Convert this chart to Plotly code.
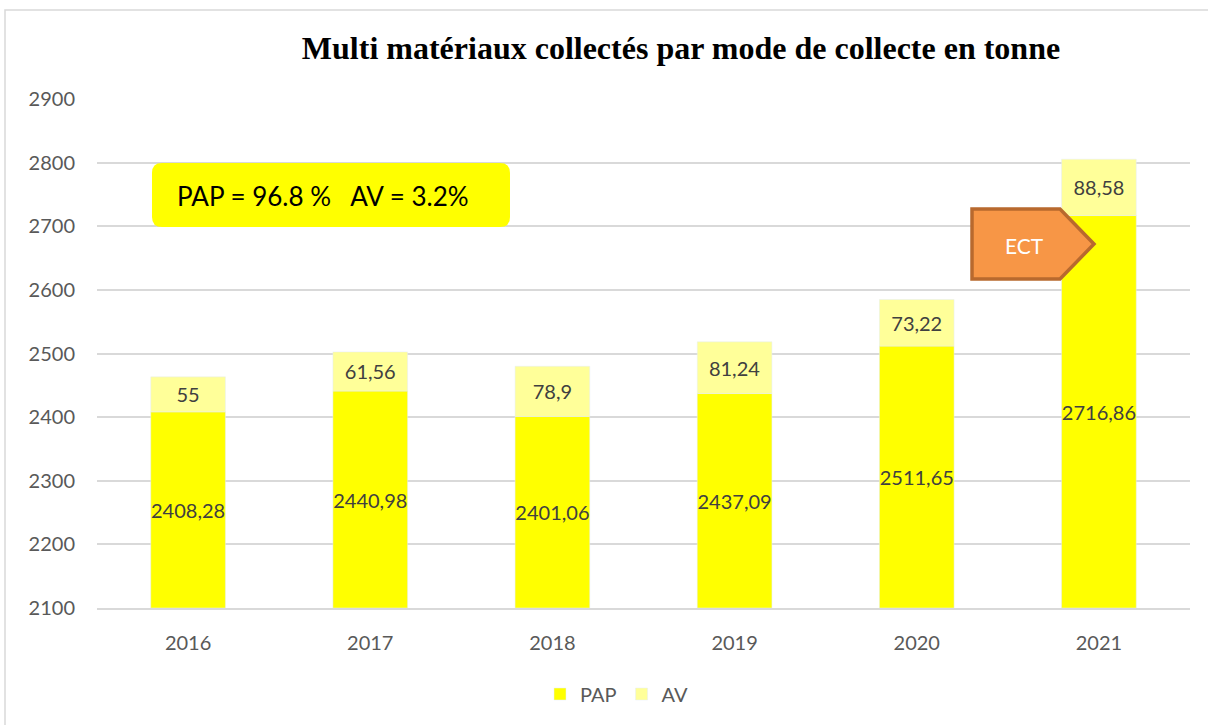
import plotly.graph_objects as go

years = ["2016", "2017", "2018", "2019", "2020", "2021"]
pap = [2408.28, 2440.98, 2401.06, 2437.09, 2511.65, 2716.86]
av = [55, 61.56, 78.9, 81.24, 73.22, 88.58]
y_ticks = [2100, 2200, 2300, 2400, 2500, 2600, 2700, 2800, 2900]
y_min, y_max = 2100, 2900

# plot area in pixels, used to place decorations in paper coords
L, R, T, B = 97, 1190, 99, 608


def px(x):
    return (x - L) / (R - L)


def py(y):
    return (B - y) / (B - T)


def fr(v):
    s = ("%.2f" % v).rstrip("0").rstrip(".")
    return s.replace(".", ",")


label_font = dict(family="Lato, Open Sans, sans-serif", size=20, color="#404040")

fig = go.Figure()
# PAP bars start at the axis floor so the label sits in the visible part
fig.add_trace(go.Bar(x=years, y=[v - y_min for v in pap], base=y_min, name="PAP",
                     marker=dict(color="#FFFF00"),
                     text=[fr(v) for v in pap], textposition="inside", insidetextanchor="middle",
                     textangle=0, textfont=label_font, constraintext="none"))
fig.add_trace(go.Bar(x=years, y=av, base=pap, name="AV", marker=dict(color="#FFFF99"),
                     text=[fr(v) for v in av], textposition="inside", insidetextanchor="middle",
                     textangle=0, textfont=label_font, constraintext="none"))


def rounded(x0, y0, x1, y1, r):
    # rounded rectangle in pixels -> path in paper coords
    pts = []
    pts.append("M %f,%f" % (px(x0 + r), py(y0)))
    pts.append("L %f,%f" % (px(x1 - r), py(y0)))
    pts.append("Q %f,%f %f,%f" % (px(x1), py(y0), px(x1), py(y0 + r)))
    pts.append("L %f,%f" % (px(x1), py(y1 - r)))
    pts.append("Q %f,%f %f,%f" % (px(x1), py(y1), px(x1 - r), py(y1)))
    pts.append("L %f,%f" % (px(x0 + r), py(y1)))
    pts.append("Q %f,%f %f,%f" % (px(x0), py(y1), px(x0), py(y1 - r)))
    pts.append("L %f,%f" % (px(x0), py(y0 + r)))
    pts.append("Q %f,%f %f,%f" % (px(x0), py(y0), px(x0 + r), py(y0)))
    return " ".join(pts) + " Z"


def pentagon(x0, y0, x1, y1, tip):
    p = [(x0, y0), (x1, y0), (tip, (y0 + y1) / 2), (x1, y1), (x0, y1)]
    return "M " + " L ".join("%f,%f" % (px(a), py(b)) for a, b in p) + " Z"


shapes = [
    dict(type="rect", xref="paper", yref="paper", x0=px(5), x1=px(1220), y0=py(10), y1=py(740),
         line=dict(color="#D9D9D9", width=1.5), fillcolor="rgba(0,0,0,0)", layer="below"),
    dict(type="path", xref="paper", yref="paper", path=rounded(152, 163, 510, 227, 10),
         fillcolor="#FFFF00", line=dict(width=0)),
    dict(type="path", xref="paper", yref="paper", path=pentagon(972, 209, 1060, 279, 1094),
         fillcolor="#F79646", line=dict(color="#B8692E", width=3.5)),
]

annotations = [
    dict(xref="paper", yref="paper", x=px(323), y=py(196), xanchor="center", yanchor="middle",
         text="PAP = 96.8 %   AV = 3.2%", showarrow=False,
         font=dict(family="Lato, Open Sans, sans-serif", size=26, color="#000000")),
    dict(xref="paper", yref="paper", x=px(1024), y=py(245), xanchor="center", yanchor="middle",
         text="ECT", showarrow=False,
         font=dict(family="Lato, Open Sans, sans-serif", size=21, color="#FFFFFF")),
]

fig.update_layout(
    width=1208, height=725,
    margin=dict(l=L, r=1208 - R, t=T, b=725 - B),
    paper_bgcolor="white", plot_bgcolor="white",
    barmode="overlay", bargap=0.59,
    title=dict(text="<b>Multi matériaux collectés par mode de collecte en tonne</b>",
               xref="container", x=681 / 1208, xanchor="center", y=1 - 48 / 725, yanchor="middle",
               font=dict(family="Liberation Serif, serif", size=32, color="#000000")),
    font=dict(family="Lato, Open Sans, sans-serif", color="#595959"),
    xaxis=dict(tickfont=dict(size=20, color="#595959"), showgrid=False, showline=True,
               linecolor="#D9D9D9", linewidth=1.5, ticklabelstandoff=16),
    yaxis=dict(range=[y_min, y_max], tickvals=y_ticks, tickfont=dict(size=20, color="#595959"),
               gridcolor="#D9D9D9", gridwidth=1.5, zeroline=False, showline=False,
               ticklabelstandoff=21),
    legend=dict(orientation="h", x=px(617), xanchor="center", y=py(694), yanchor="middle",
                font=dict(size=20, color="#595959"), traceorder="normal", itemwidth=30),
    shapes=shapes, annotations=annotations,
)

fig.write_html("out.html", config={"displayModeBar": False},
               post_script="document.body.style.margin='0';")
